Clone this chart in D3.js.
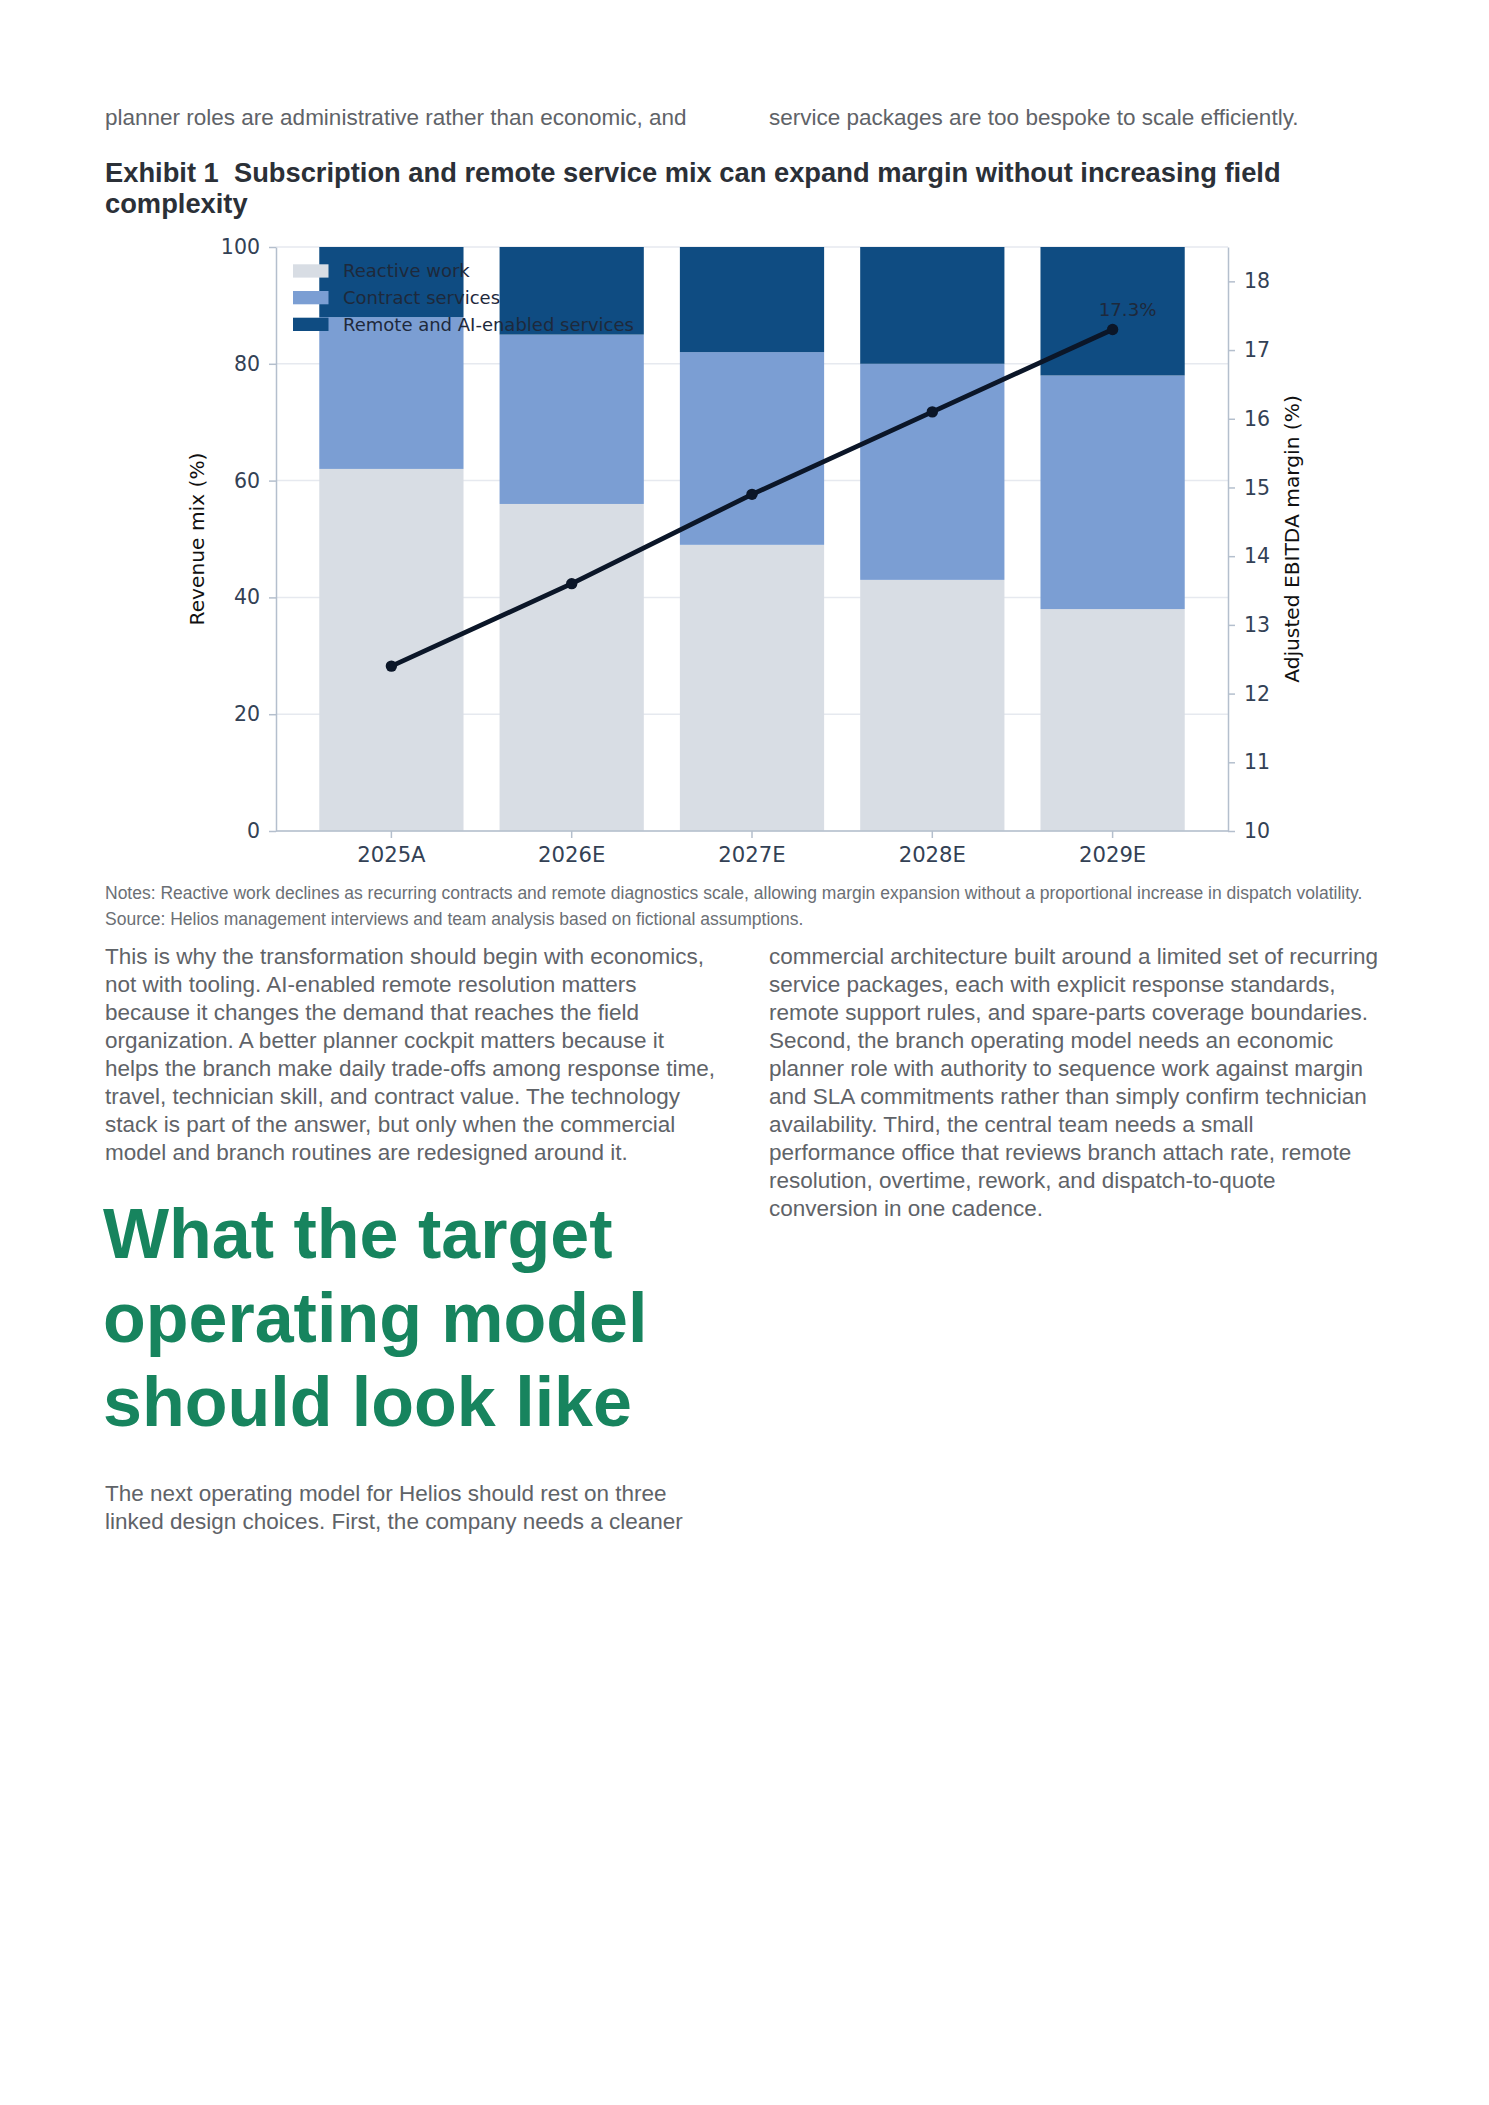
<!DOCTYPE html>
<html>
<head>
<meta charset="utf-8">
<script src="https://cdn.jsdelivr.net/npm/d3@7"></script>
<style>
  html, body { margin: 0; padding: 0; background: #ffffff; }
  svg { display: block; }
  text { white-space: pre; }
</style>
</head>
<body>
<svg id="page" width="1489" height="2105"></svg>
<script>
// ---------- DATA ----------
const years = ["2025A", "2026E", "2027E", "2028E", "2029E"];
const reactiveWork = [62, 56, 49, 43, 38];
const contractServices = [26, 29, 33, 37, 40];
const remoteServices = [12, 15, 18, 20, 22];
const ebitdaMargin = [12.4, 13.6, 14.9, 16.1, 17.3];
const seriesNames = ["Reactive work", "Contract services", "Remote and AI-enabled services"];
const leftTicks = [0, 20, 40, 60, 80, 100];
const rightTicks = [10, 11, 12, 13, 14, 15, 16, 17, 18];

// ---------- TEXT ----------
const topLeftLine = "planner roles are administrative rather than economic, and";
const topRightLine = "service packages are too bespoke to scale efficiently.";
const titleLines = ["Exhibit 1  Subscription and remote service mix can expand margin without increasing field", "complexity"];
const noteLines = [
  "Notes: Reactive work declines as recurring contracts and remote diagnostics scale, allowing margin expansion without a proportional increase in dispatch volatility.",
  "Source: Helios management interviews and team analysis based on fictional assumptions."
];
const leftBody = [
  "This is why the transformation should begin with economics,",
  "not with tooling. AI-enabled remote resolution matters",
  "because it changes the demand that reaches the field",
  "organization. A better planner cockpit matters because it",
  "helps the branch make daily trade-offs among response time,",
  "travel, technician skill, and contract value. The technology",
  "stack is part of the answer, but only when the commercial",
  "model and branch routines are redesigned around it."
];
const rightBody = [
  "commercial architecture built around a limited set of recurring",
  "service packages, each with explicit response standards,",
  "remote support rules, and spare-parts coverage boundaries.",
  "Second, the branch operating model needs an economic",
  "planner role with authority to sequence work against margin",
  "and SLA commitments rather than simply confirm technician",
  "availability. Third, the central team needs a small",
  "performance office that reviews branch attach rate, remote",
  "resolution, overtime, rework, and dispatch-to-quote",
  "conversion in one cadence."
];
const headingLines = ["What the target", "operating model", "should look like"];
const afterHeading = [
  "The next operating model for Helios should rest on three",
  "linked design choices. First, the company needs a cleaner"
];

// ---------- STYLES ----------
const colors = ["#d8dde4", "#7b9ed3", "#0f4c82"];
const bodyFont = "'Liberation Sans', Arial, Helvetica, sans-serif";
const chartFont = "'DejaVu Sans', sans-serif";
const bodyColor = "#5f6368";

const svg = d3.select("#page");

function textLines(lines, x, y0, lh, opts) {
  lines.forEach((t, i) => {
    const el = svg.append("text")
      .attr("x", x).attr("y", y0 + i * lh)
      .attr("dy", "0.35em")
      .attr("xml:space", "preserve")
      .attr("font-family", opts.family || bodyFont)
      .attr("font-size", opts.size)
      .attr("fill", opts.color || bodyColor)
      .text(t);
    if (opts.weight) el.attr("font-weight", opts.weight);
  });
}

// Page text
textLines([topLeftLine], 105, 117, 28, { size: 22.5 });
textLines([topRightLine], 769, 117, 28, { size: 22.5 });
textLines(titleLines, 105, 172, 31, { size: 27.3, weight: "bold", color: "#2b3037" });
textLines(noteLines, 105, 893, 25.5, { size: 17.5, color: "#6b6f75" });
textLines(leftBody, 105, 956, 28, { size: 22.5 });
textLines(rightBody, 769, 956, 28, { size: 22.5 });
textLines(headingLines, 103, 1233, 84, { size: 70, weight: "bold", color: "#17845e" });
textLines(afterHeading, 105, 1493, 28, { size: 22.5 });

// ---------- CHART ----------
const plot = { left: 276, right: 1228, top: 247, bottom: 831 };

const x = d3.scaleBand().domain(years)
  .range([plot.left, plot.right])
  .paddingInner(0.2).paddingOuter(0.24);
const yL = d3.scaleLinear().domain([0, 100]).range([plot.bottom, plot.top]);
const yR = d3.scaleLinear().domain([10, 18.5]).range([plot.bottom, plot.top]);

const g = svg.append("g");

// gridlines
g.append("g").selectAll("line").data(leftTicks).join("line")
  .attr("x1", plot.left).attr("x2", plot.right)
  .attr("y1", d => yL(d)).attr("y2", d => yL(d))
  .attr("stroke", "#e6e9ef").attr("stroke-width", 1.5);

// stacked bars
const rows = years.map((yr, i) => ({
  year: yr,
  r: reactiveWork[i], c: contractServices[i], m: remoteServices[i]
}));
const stack = d3.stack().keys(["r", "c", "m"])(rows);
stack.forEach((layer, li) => {
  g.append("g").selectAll("rect").data(layer).join("rect")
    .attr("x", d => x(d.data.year))
    .attr("width", x.bandwidth())
    .attr("y", d => yL(d[1]))
    .attr("height", d => yL(d[0]) - yL(d[1]))
    .attr("fill", colors[li]);
});

// axes
const axisColor = "#b4bfcd";
const tickColor = "#334155";
function styleAxis(sel, fs) {
  sel.selectAll("path.domain").attr("stroke", axisColor).attr("stroke-width", 1.5);
  sel.selectAll(".tick line").attr("stroke", axisColor).attr("stroke-width", 1.5);
  sel.selectAll(".tick text").attr("fill", tickColor).attr("font-family", chartFont).attr("font-size", fs);
}
const axL = g.append("g").attr("transform", `translate(${plot.left},0)`)
  .call(d3.axisLeft(yL).tickValues(leftTicks).tickSize(7).tickPadding(9).tickSizeOuter(0));
styleAxis(axL, 20.5);
const axR = g.append("g").attr("transform", `translate(${plot.right},0)`)
  .call(d3.axisRight(yR).tickValues(rightTicks).tickSize(7).tickPadding(9).tickSizeOuter(0));
styleAxis(axR, 20.5);
const axB = g.append("g").attr("transform", `translate(0,${plot.bottom})`)
  .call(d3.axisBottom(x).tickSize(7).tickPadding(9).tickSizeOuter(0));
styleAxis(axB, 21.2);
axB.select("path.domain").attr("d", `M${plot.left},0H${plot.right}`);

// axis labels
svg.append("text")
  .attr("transform", `translate(197,${(plot.top + plot.bottom) / 2}) rotate(-90)`)
  .attr("text-anchor", "middle").attr("dy", "0.35em")
  .attr("font-family", chartFont).attr("font-size", 20.2).attr("fill", "#111111")
  .text("Revenue mix (%)");
svg.append("text")
  .attr("transform", `translate(1292,${(plot.top + plot.bottom) / 2}) rotate(-90)`)
  .attr("text-anchor", "middle").attr("dy", "0.35em")
  .attr("font-family", chartFont).attr("font-size", 20.2).attr("fill", "#111111")
  .text("Adjusted EBITDA margin (%)");

// margin line
const cx = d => x(d) + x.bandwidth() / 2;
const lineGen = d3.line().x((d, i) => cx(years[i])).y(d => yR(d));
g.append("path").datum(ebitdaMargin)
  .attr("d", lineGen).attr("fill", "none")
  .attr("stroke", "#0b1628").attr("stroke-width", 4.8);
g.append("g").selectAll("circle").data(ebitdaMargin).join("circle")
  .attr("cx", (d, i) => cx(years[i])).attr("cy", d => yR(d))
  .attr("r", 5.7).attr("fill", "#0b1628");

// last value label
const lastI = ebitdaMargin.length - 1;
svg.append("text")
  .attr("x", cx(years[lastI]) + 15).attr("y", yR(ebitdaMargin[lastI]) - 13)
  .attr("text-anchor", "middle")
  .attr("font-family", chartFont).attr("font-size", 18.2).attr("fill", "#1e293b")
  .text(ebitdaMargin[lastI].toFixed(1) + "%");

// legend
const leg = svg.append("g");
seriesNames.forEach((name, i) => {
  const cy = 271 + i * 26.7;
  leg.append("rect").attr("x", 293).attr("y", cy - 6.7).attr("width", 35.5).attr("height", 13.3)
    .attr("fill", colors[i]);
  leg.append("text").attr("x", 343).attr("y", cy).attr("dy", "0.35em")
    .attr("font-family", chartFont).attr("font-size", 18).attr("fill", "#1e293b")
    .text(name);
});
</script>
</body>
</html>
